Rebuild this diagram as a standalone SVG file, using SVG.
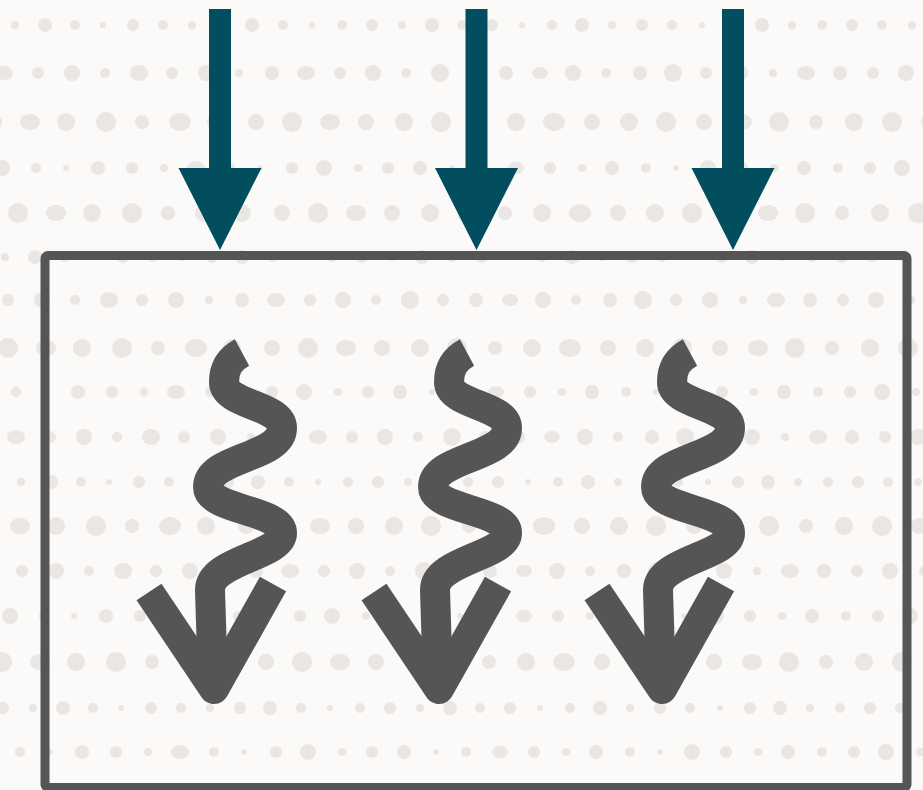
<svg xmlns="http://www.w3.org/2000/svg" width="923" height="790" viewBox="0 0 923 790">
<style>
.dotrow{fill:#e9e6e4}
.teal{fill:#024e5e}
.wave{fill:none;stroke:#555555;stroke-width:30;stroke-linecap:butt;stroke-linejoin:round}
.box{fill:none;stroke:#555555;stroke-width:9}
</style>
<defs>
<g id="rowA" class="dotrow">
<circle cx="-40" r="9"/><circle cx="-2" r="10"/><ellipse cx="36" rx="10" ry="8"/><circle cx="72" r="9"/><circle cx="112" r="10"/><circle cx="148" r="7"/><ellipse cx="186" rx="11" ry="9"/><circle cx="222" r="9"/><circle cx="262" r="8"/><circle cx="298" r="10"/><ellipse cx="336" rx="10" ry="8"/><circle cx="372" r="8"/><circle cx="410" r="9"/><circle cx="447" r="10"/><circle cx="485" r="7"/><circle cx="522" r="9"/><ellipse cx="560" rx="11" ry="9"/><circle cx="598" r="8"/><circle cx="635" r="9"/><circle cx="672" r="10"/><circle cx="710" r="8"/><ellipse cx="748" rx="10" ry="8"/><circle cx="785" r="10"/><circle cx="822" r="7"/><circle cx="860" r="9"/><circle cx="898" r="10"/><circle cx="935" r="8"/><circle cx="972" r="9"/>
</g>
<g id="rowB" class="dotrow">
<circle cx="-45" r="5"/><circle cx="-15" r="6"/><circle cx="15" r="4"/><circle cx="45" r="7"/><circle cx="75" r="5"/><circle cx="103" r="3"/><circle cx="133" r="6"/><circle cx="163" r="5"/><circle cx="192" r="4"/><circle cx="222" r="6"/><circle cx="252" r="7"/><circle cx="283" r="5"/><circle cx="312" r="3"/><circle cx="342" r="5"/><circle cx="372" r="6"/><circle cx="402" r="4"/><circle cx="432" r="7"/><circle cx="462" r="5"/><circle cx="492" r="6"/><circle cx="522" r="3"/><circle cx="552" r="5"/><circle cx="582" r="7"/><circle cx="612" r="4"/><circle cx="642" r="6"/><circle cx="672" r="5"/><circle cx="702" r="3"/><circle cx="732" r="6"/><circle cx="762" r="7"/><circle cx="792" r="4"/><circle cx="822" r="5"/><circle cx="852" r="6"/><circle cx="882" r="5"/><circle cx="912" r="4"/><circle cx="942" r="7"/><circle cx="972" r="5"/>
</g>
<g id="rowC" class="dotrow">
<circle cx="-42" r="7"/><ellipse cx="-8" rx="9" ry="7"/><circle cx="26" r="6"/><circle cx="60" r="8"/><circle cx="93" r="5"/><ellipse cx="127" rx="9" ry="8"/><circle cx="160" r="6"/><circle cx="194" r="8"/><circle cx="227" r="4"/><circle cx="260" r="7"/><ellipse cx="294" rx="9" ry="7"/><circle cx="328" r="6"/><circle cx="361" r="8"/><circle cx="394" r="5"/><circle cx="428" r="9"/><circle cx="461" r="6"/><circle cx="494" r="7"/><ellipse cx="528" rx="8" ry="6"/><circle cx="561" r="8"/><circle cx="594" r="5"/><circle cx="628" r="7"/><circle cx="661" r="9"/><circle cx="694" r="6"/><circle cx="728" r="8"/><circle cx="761" r="4"/><ellipse cx="794" rx="9" ry="7"/><circle cx="828" r="7"/><circle cx="861" r="6"/><circle cx="894" r="8"/><circle cx="928" r="5"/><circle cx="961" r="7"/>
</g>
<g id="rowD" class="dotrow">
<circle cx="-38" r="4"/><circle cx="-6" r="8"/><circle cx="28" r="5"/><circle cx="58" r="3"/><circle cx="90" r="7"/><circle cx="124" r="6"/><circle cx="156" r="4"/><ellipse cx="188" rx="9" ry="7"/><circle cx="222" r="5"/><circle cx="252" r="3"/><circle cx="284" r="6"/><circle cx="316" r="8"/><circle cx="350" r="4"/><circle cx="380" r="6"/><circle cx="412" r="7"/><circle cx="444" r="3"/><circle cx="474" r="5"/><ellipse cx="508" rx="8" ry="6"/><circle cx="542" r="6"/><circle cx="574" r="4"/><circle cx="604" r="7"/><circle cx="638" r="5"/><circle cx="668" r="3"/><circle cx="700" r="8"/><circle cx="734" r="6"/><circle cx="766" r="4"/><circle cx="796" r="7"/><circle cx="830" r="5"/><circle cx="862" r="6"/><circle cx="894" r="8"/><circle cx="928" r="4"/><circle cx="958" r="6"/>
</g>
<g id="squiggle">
<path class="wave" d="M 242 352.5 C 230 359, 224 368, 224 382 C 224 405, 282 405, 282 428 C 282 458, 208 457, 208 487 C 208 510, 282 510, 282 533 C 282 556, 210 560, 210 590 L 213 686"/>
<path class="wave" d="M 149 592 L 214 689 L 273 584"/>
</g>
<polygon id="tealArrow" class="teal" points="-11,9 11,9 11,168 41.5,168 0,250 -41.5,168 -11,168"/>
</defs>
<rect width="923" height="790" fill="#fbfaf8"/>
<g id="background-dots">
<use href="#rowB" x="0" y="25"/>
<use href="#rowC" x="12" y="73"/>
<use href="#rowA" x="-6" y="122"/>
<use href="#rowD" x="8" y="168"/>
<use href="#rowA" x="20" y="213"/>
<use href="#rowB" x="-10" y="257"/>
<use href="#rowC" x="-18" y="300"/>
<use href="#rowA" x="10" y="348"/>
<use href="#rowD" x="-12" y="392"/>
<use href="#rowC" x="24" y="437"/>
<use href="#rowB" x="6" y="482"/>
<use href="#rowA" x="-16" y="526"/>
<use href="#rowC" x="-4" y="571"/>
<use href="#rowD" x="16" y="616"/>
<use href="#rowA" x="4" y="662"/>
<use href="#rowB" x="18" y="708"/>
<use href="#rowD" x="-8" y="752"/>
</g>
<g id="connectors">
<use id="incoming-1" href="#tealArrow" x="220" y="0"/>
<use id="incoming-2" href="#tealArrow" x="476.5" y="0"/>
<use id="incoming-3" href="#tealArrow" x="733" y="0"/>
</g>
<g id="container">
<rect class="box" x="45" y="255.5" width="862" height="532" rx="3"/>
</g>
<g id="wave-1"><use href="#squiggle" x="0" y="0"/></g>
<g id="wave-2"><use href="#squiggle" x="225" y="0"/></g>
<g id="wave-3"><use href="#squiggle" x="448" y="0"/></g>
</svg>
